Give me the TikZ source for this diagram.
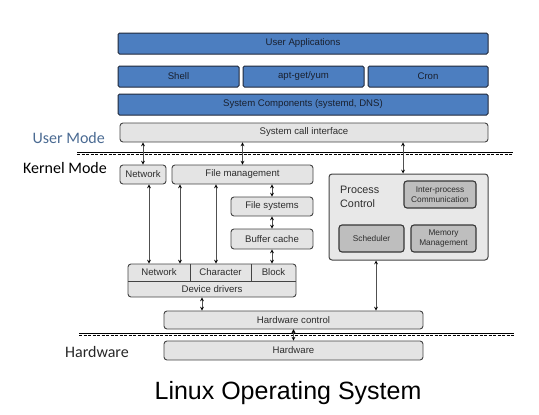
\documentclass[tikz,border=0pt]{standalone}
\usepackage{fontspec}
\setmainfont{Liberation Sans}
\newfontfamily\modefont{Carlito}
\usepackage{tikz}
\usetikzlibrary{arrows}

\definecolor{appblue}{RGB}{76,126,192}
\definecolor{appedge}{RGB}{32,40,58}
\definecolor{kfill}{RGB}{228,228,228}
\definecolor{kedge}{RGB}{68,68,68}
\definecolor{pfill}{RGB}{190,190,190}
\definecolor{connc}{RGB}{80,80,80}
\definecolor{usermode}{RGB}{74,106,146}
\definecolor{ktext}{RGB}{45,45,45}

\begin{document}
\begin{tikzpicture}[x=1pt, y=-1pt, >=stealth,
  every node/.style={inner sep=0pt, font=\fontsize{9.6}{11}\selectfont, text=ktext},
  ubox/.style={draw=appedge, fill=appblue, line width=1pt, rounded corners=1.5pt, text=appedge!80!black},
  kbox/.style={draw=kedge, fill=kfill, line width=0.9pt, rounded corners=3pt},
  pbox/.style={draw=kedge!80!black, fill=pfill, line width=1.1pt, rounded corners=3pt, align=center, font=\fontsize{8.3}{9.8}\selectfont},
  conn/.style={draw=connc, line width=0.7pt},
  modelbl/.style={anchor=east, font=\modefont\fontsize{16}{18}\selectfont}]
  \useasboundingbox (0,0) rectangle (539,415);

  % user space
  \node[ubox, minimum width=370pt, minimum height=21pt] (apps) at (303,43.5) {User Applications};
  \node[ubox, minimum width=121pt, minimum height=21pt] (shell) at (178.5,76.5) {Shell};
  \node[ubox, minimum width=121pt, minimum height=21pt] (apt) at (303.5,76.5) {apt-get/yum};
  \node[ubox, minimum width=120pt, minimum height=21pt] (cron) at (428,76.5) {Cron};
  \node[ubox, minimum width=370pt, minimum height=21pt] (syscomp) at (303,104.5) {System Components (systemd, DNS)};
  \node[kbox, minimum width=368pt, minimum height=19pt] (sci) at (304,132.5) {System call interface};

  % mode borders
  \draw[line width=0.9pt] (77,152) -- (513,152);
  \draw[line width=0.9pt, dash pattern=on 3pt off 1.5pt] (77,154.5) -- (513,154.5);
  \draw[line width=0.9pt] (79,333) -- (514,333);
  \draw[line width=0.9pt, dash pattern=on 3pt off 1.5pt] (79,335.5) -- (514,335.5);
  \node[modelbl, text=usermode] (umode) at (105,138) {User Mode};
  \node[modelbl, text=black] (kmode) at (107,168) {Kernel Mode};
  \node[modelbl, text=black!85] (hmode) at (129,352) {Hardware};

  % kernel
  \node[kbox, minimum width=46pt, minimum height=19pt] (knet) at (143,174.5) {Network};
  \node[kbox, minimum width=141pt, minimum height=19pt] (fm) at (242.5,174.5) {File management};
  \node[kbox, minimum width=82pt, minimum height=19pt] (fs) at (272,206.5) {File systems};
  \node[kbox, minimum width=82pt, minimum height=20pt] (bc) at (272,239) {Buffer cache};

  \node[kbox, minimum width=168pt, minimum height=33pt] (dd) at (212,280.5) {};
  \draw[draw=kedge, line width=0.9pt] (128,281) -- (296,281) (190,264) -- (190,281) (251,264) -- (251,281);
  \node (ddnet) at (159,272.5) {Network};
  \node (ddchr) at (220.5,272.5) {Character};
  \node (ddblk) at (273.5,272.5) {Block};
  \node (ddtxt) at (212,289) {Device drivers};

  \node[kbox, minimum width=159pt, minimum height=86pt, fill=kfill!85!white, line width=1pt] (pc) at (408.5,217) {};
  \node[align=left, anchor=west, font=\fontsize{10.8}{13.5}\selectfont] (pclbl) at (340,197) {Process\\Control};
  \node[pbox, minimum width=72pt, minimum height=27pt] (ipc) at (440,194.5) {Inter-process\\Communication};
  \node[pbox, minimum width=65pt, minimum height=27pt] (sched) at (371.5,238.5) {Scheduler};
  \node[pbox, minimum width=65pt, minimum height=27pt] (mem) at (443.5,238.5) {Memory\\Management};

  % hardware
  \node[kbox, minimum width=259pt, minimum height=18pt] (hc) at (293.5,320) {Hardware control};
  \node[kbox, minimum width=259pt, minimum height=19pt] (hw) at (293.5,350.5) {Hardware};

  \node[anchor=base, font=\fontsize{25}{30}\selectfont, text=black] (title) at (288,399) {Linux Operating System};

  % connectors
  \coordinate (pcin) at ([xshift=-5.5pt]pc.north);
  \coordinate (pcout) at ([xshift=-32.5pt]pc.south);
  \coordinate (netdown) at ([xshift=6pt]knet.south);
  \coordinate (fmnet) at ([xshift=-62.5pt]fm.south);
  \coordinate (fmchr) at ([xshift=-26.5pt]fm.south);
  \coordinate (ddout) at ([xshift=-10pt]dd.south);
  \path[<->, conn]
  (knet.north |- sci.south) edge (knet.north)
  (fm.north |- sci.south) edge (fm.north)
  (pcin |- sci.south) edge (pcin)
  (netdown) edge (netdown |- dd.north)
  (fmnet) edge (fmnet |- dd.north)
  (fmchr) edge (fmchr |- dd.north)
  (fs.north |- fm.south) edge (fs.north)
  (fs.south) edge (bc.north)
  (bc.south) edge (bc.south |- dd.north)
  (pcout) edge (pcout |- hc.north)
  (ddout) edge (ddout |- hc.north)
  (hc.south) edge (hw.north)
  ;
\end{tikzpicture}
\end{document}
